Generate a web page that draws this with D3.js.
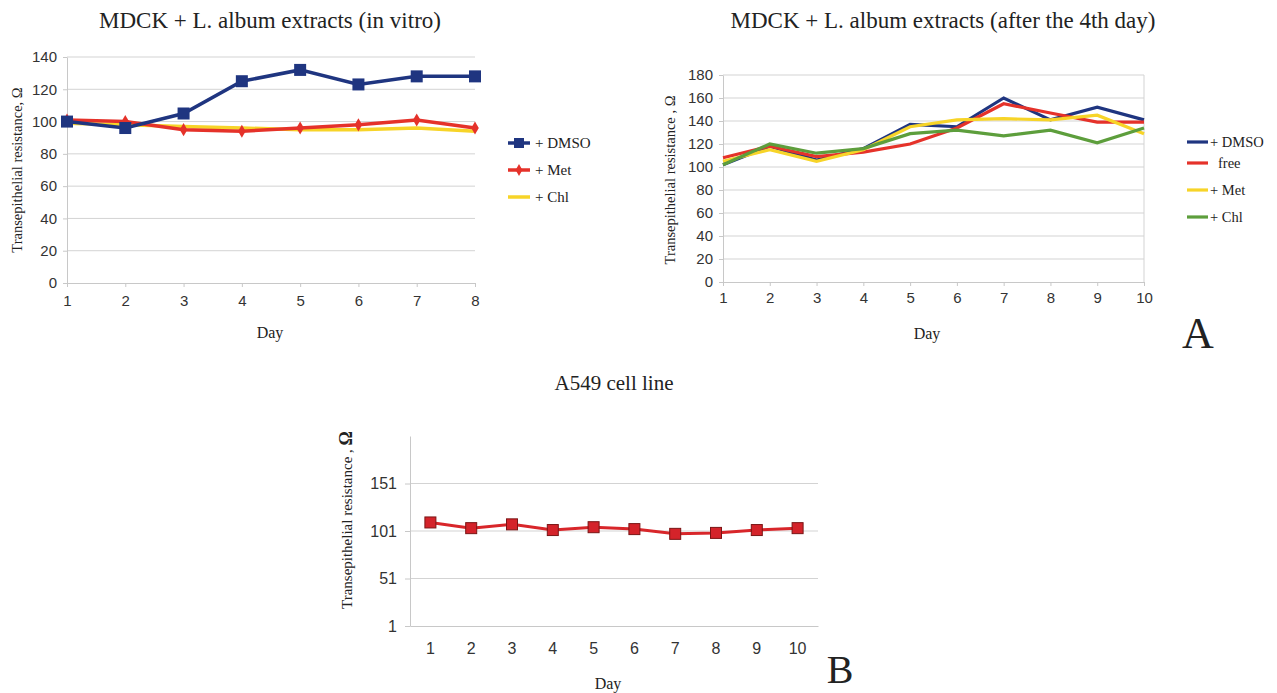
<!DOCTYPE html>
<html>
  <head>
    <meta charset="utf-8">
    <title>Transepithelial resistance</title>
    <script src="https://d3js.org/d3.v7.min.js"></script>
    <style>
      body { margin: 0; background: #fff; }
      svg text { fill: #222; }
      .tick text { font-family: "Liberation Sans", Arial, sans-serif; font-size: 15px; fill: #333; }
      .serif { font-family: "Liberation Serif", "Times New Roman", serif; }
    </style>
  </head>
  <body>
    <svg id="chart" width="1277" height="693"></svg>
    <script>
      // data
      // panel A left: in vitro
      daysA1 = [1, 2, 3, 4, 5, 6, 7, 8];
      dmsoA1 = [100, 96, 105, 125, 132, 123, 128, 128];
      metA1 = [101, 100, 95, 94, 96, 98, 101, 96];
      chlA1 = [99, 98, 97, 96, 95, 95, 96, 94];
      ticksA1 = [0, 20, 40, 60, 80, 100, 120, 140];
      // panel A right: after the 4th day
      daysA2 = [1, 2, 3, 4, 5, 6, 7, 8, 9, 10];
      dmsoA2 = [102, 118, 106, 116, 137, 135, 160, 141, 152, 141];
      freeA2 = [108, 118, 109, 113, 120, 134, 155, 147, 139, 139];
      metA2 = [105, 115, 105, 115, 135, 141, 142, 141, 145, 129];
      chlA2 = [102, 120, 112, 116, 129, 132, 127, 132, 121, 134];
      ticksA2 = [0, 20, 40, 60, 80, 100, 120, 140, 160, 180];
      // panel B: A549 cell line
      daysB = [1, 2, 3, 4, 5, 6, 7, 8, 9, 10];
      a549B = [110, 104, 108, 102, 105, 103, 98, 99, 102, 104];
      ticksB = [1, 51, 101, 151];

      navy = "#1f3580";
      red = "#e5322a";
      yellow = "#f7d428";
      green = "#5d9e3c";
      grid = "#d3d3d3";

      svg = d3.select("#chart");

      function addText(x, y, str, size, opts) {
        opts = opts || {};
        var t = svg.append("text")
          .attr("class", "serif")
          .attr("x", x)
          .attr("y", y)
          .attr("text-anchor", opts.anchor || "middle")
          .style("font-size", size + "px")
          .text(str);
        if (opts.rotate) t.attr("transform", "rotate(-90 " + x + " " + y + ")");
        return t;
      }

      function gridLines(g, y, ticks, x0, x1) {
        g.selectAll(".grid")
          .data(ticks)
          .enter().append("line")
            .attr("x1", x0)
            .attr("x2", x1)
            .attr("y1", function(d) { return y(d); })
            .attr("y2", function(d) { return y(d); })
            .attr("stroke", grid)
            .attr("stroke-width", 1);
      }

      function styleAxis(g) {
        g.select(".domain").attr("stroke", "#c8c8c8");
        g.selectAll(".tick line").attr("stroke", "#c8c8c8");
      }

      // ---------- panel A left ----------
      x1 = d3.scaleLinear().domain([1, 8]).range([67, 475]);
      y1 = d3.scaleLinear().domain([0, 140]).range([283, 57]);
      g1 = svg.append("g");
      gridLines(g1, y1, ticksA1.slice(1), 67, 475);
      g1.append("g")
        .attr("transform", "translate(0,283)")
        .call(d3.axisBottom(x1).tickValues(daysA1).tickSize(4).tickSizeOuter(0).tickPadding(8).tickFormat(d3.format("d")))
        .call(styleAxis);
      g1.append("g")
        .attr("transform", "translate(67,0)")
        .call(d3.axisLeft(y1).tickValues(ticksA1).tickSize(4).tickSizeOuter(0).tickPadding(6))
        .call(styleAxis);
      line1 = function(vals) {
        return d3.line()
          .x(function(d, i) { return x1(daysA1[i]); })
          .y(function(d) { return y1(d); })(vals);
      };
      g1.append("path").attr("d", line1(chlA1)).attr("fill", "none").attr("stroke", yellow).attr("stroke-width", 3.5);
      g1.append("path").attr("d", line1(metA1)).attr("fill", "none").attr("stroke", red).attr("stroke-width", 3.5);
      g1.selectAll(".met").data(metA1).enter().append("path")
        .attr("transform", function(d, i) { return "translate(" + x1(daysA1[i]) + "," + y1(d) + ")"; })
        .attr("d", d3.symbol(d3.symbolDiamond, 50)())
        .attr("fill", red);
      g1.append("path").attr("d", line1(dmsoA1)).attr("fill", "none").attr("stroke", navy).attr("stroke-width", 3.5);
      g1.selectAll(".dmso").data(dmsoA1).enter().append("rect")
        .attr("x", function(d, i) { return x1(daysA1[i]) - 6; })
        .attr("y", function(d) { return y1(d) - 6; })
        .attr("width", 12).attr("height", 12)
        .attr("fill", navy);
      // legend
      legend1 = [
        { name: "+ DMSO", color: navy, mark: "square", y: 143 },
        { name: "+ Met", color: red, mark: "diamond", y: 170 },
        { name: "+ Chl", color: yellow, mark: "none", y: 197 }
      ];
      legend1.forEach(function(d) {
        svg.append("line").attr("x1", 508).attr("x2", 530).attr("y1", d.y).attr("y2", d.y)
          .attr("stroke", d.color).attr("stroke-width", 3.5);
        if (d.mark == "square") svg.append("rect").attr("x", 514).attr("y", d.y - 5).attr("width", 10).attr("height", 10).attr("fill", d.color);
        if (d.mark == "diamond") svg.append("path").attr("transform", "translate(519," + d.y + ")").attr("d", d3.symbol(d3.symbolDiamond, 40)()).attr("fill", d.color);
        addText(535, d.y + 5, d.name, 15, { anchor: "start" });
      });
      addText(270, 28, "MDCK + L. album extracts (in vitro)", 23);
      addText(270, 338, "Day", 16);
      addText(22, 170, "Transepithelial resistance, Ω", 14.5, { rotate: true });

      // ---------- panel A right ----------
      x2 = d3.scaleLinear().domain([1, 10]).range([723, 1144]);
      y2 = d3.scaleLinear().domain([0, 180]).range([282, 75]);
      g2 = svg.append("g");
      gridLines(g2, y2, ticksA2.slice(1), 723, 1144);
      g2.append("g")
        .attr("transform", "translate(0,282)")
        .call(d3.axisBottom(x2).tickValues(daysA2).tickSize(4).tickSizeOuter(0).tickPadding(6).tickFormat(d3.format("d")))
        .call(styleAxis);
      g2.append("g")
        .attr("transform", "translate(723,0)")
        .call(d3.axisLeft(y2).tickValues(ticksA2).tickSize(4).tickSizeOuter(0).tickPadding(6))
        .call(styleAxis);
      g2.append("line").attr("x1", 1144).attr("x2", 1144).attr("y1", 75).attr("y2", 282).attr("stroke", grid);
      line2 = function(vals) {
        return d3.line()
          .x(function(d, i) { return x2(daysA2[i]); })
          .y(function(d) { return y2(d); })(vals);
      };
      series2 = [
        { name: "+ DMSO", vals: dmsoA2, color: navy, y: 142, dx: 0 },
        { name: "free", vals: freeA2, color: red, y: 163, dx: 8 },
        { name: "+ Met", vals: metA2, color: yellow, y: 190, dx: 0 },
        { name: "+ Chl", vals: chlA2, color: green, y: 217, dx: 0 }
      ];
      series2.forEach(function(s) {
        g2.append("path").attr("d", line2(s.vals)).attr("fill", "none")
          .attr("stroke", s.color).attr("stroke-width", 3.2);
        svg.append("line").attr("x1", 1187).attr("x2", 1208).attr("y1", s.y).attr("y2", s.y)
          .attr("stroke", s.color).attr("stroke-width", 3.2);
        addText(1210 + s.dx, s.y + 5, s.name, 14.5, { anchor: "start" });
      });
      addText(943, 28, "MDCK +  L. album extracts (after the 4th day)", 23);
      addText(927, 339, "Day", 16);
      addText(675, 180, "Transepithelial resistance , Ω", 14.5, { rotate: true });
      addText(1198, 348, "A", 44);

      // ---------- panel B ----------
      x3 = d3.scaleBand().domain(daysB).range([410, 818]);
      y3 = d3.scaleLinear().domain([1, 201]).range([626, 436]);
      g3 = svg.append("g");
      gridLines(g3, y3, ticksB.slice(1), 410, 818);
      g3.append("g")
        .attr("transform", "translate(0,626)")
        .call(d3.axisBottom(x3).tickSize(0).tickPadding(17))
        .call(styleAxis)
        .call(function(g) { g.selectAll(".tick text").style("font-size", "16px"); });
      g3.append("g")
        .attr("transform", "translate(410,0)")
        .call(d3.axisLeft(y3).tickValues(ticksB).tickSize(5).tickSizeOuter(0).tickPadding(8))
        .call(styleAxis)
        .call(function(g) { g.selectAll(".tick text").style("font-size", "16px"); });
      line3 = d3.line()
        .x(function(d, i) { return x3(daysB[i]) + x3.bandwidth() / 2; })
        .y(function(d) { return y3(d); });
      g3.append("path").attr("d", line3(a549B)).attr("fill", "none").attr("stroke", "#d8262a").attr("stroke-width", 3);
      g3.selectAll(".a549").data(a549B).enter().append("rect")
        .attr("x", function(d, i) { return x3(daysB[i]) + x3.bandwidth() / 2 - 5.5; })
        .attr("y", function(d) { return y3(d) - 5.5; })
        .attr("width", 11).attr("height", 11)
        .attr("fill", "#d4232a")
        .attr("stroke", "#7a1515")
        .attr("stroke-width", 1);
      addText(614, 390, "A549 cell line", 21);
      addText(608, 689, "Day", 16);
      lab = addText(352, 520, "", 15, { rotate: true });
      lab.append("tspan").text("Transepithelial resistance , ");
      lab.append("tspan").style("font-weight", "bold").style("font-size", "18px").text("Ω");
      addText(840, 683, "B", 40);
    </script>
  </body>
</html>
